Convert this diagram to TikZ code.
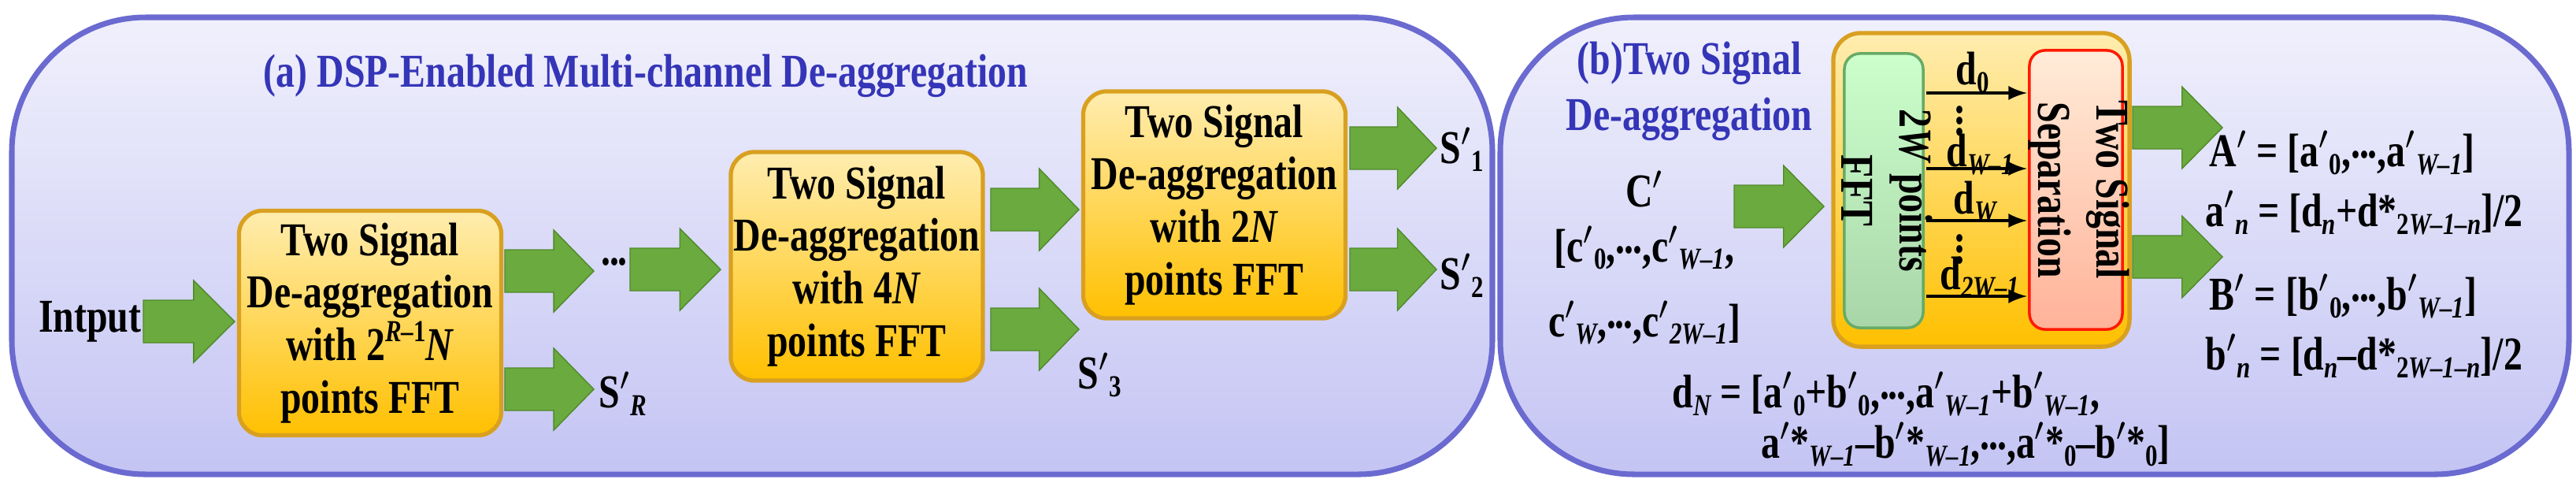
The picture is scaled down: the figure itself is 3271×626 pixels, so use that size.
\documentclass[tikz,border=0pt]{standalone}
\usepackage{fontspec}
\setmainfont{Liberation Serif}[FakeStretch=0.8]
\usetikzlibrary{positioning}
\newcommand{\sbs}[1]{\raisebox{-0.35ex}{\fontsize{11}{11}\selectfont #1}}
\newcommand{\sps}[1]{\raisebox{0.9ex}{\fontsize{11}{11}\selectfont #1}}
\newcommand{\cdd}{\raisebox{0.4ex}{.\kern-0.02em.\kern-0.02em.}}
\definecolor{pborder}{HTML}{6A6AD0}
\definecolor{ptop}{HTML}{F0F0FC}
\definecolor{pbot}{HTML}{C4C4F4}
\definecolor{ttl}{HTML}{3535B8}
\definecolor{ybord}{HTML}{D9A020}
\definecolor{ytop}{HTML}{FFEDB0}
\definecolor{ybot}{HTML}{FFC000}
\definecolor{garr}{HTML}{6BAA3E}
\definecolor{gdark}{HTML}{4F8A2A}
\tikzset{
 panel/.style={draw=pborder,line width=2pt,rounded corners=1.7cm,top color=ptop,bottom color=pbot},
 blk/.style={draw=ybord,line width=1.5pt,rounded corners=0.3cm,top color=ytop,bottom color=ybot,
   align=center,font=\bfseries\fontsize{17}{19}\selectfont,inner sep=0pt},
 txt/.style={font=\bfseries\fontsize{17}{17}\selectfont,inner sep=0pt},
 ttlf/.style={font=\bfseries\fontsize{17}{20}\selectfont,text=ttl,align=center,inner sep=0pt},
 thin/.style={-latex,line width=1.3pt},
}
% block arrow: x1, x2, y (pixels)
\newcommand{\garrow}[3]{%
 \pgfmathsetmacro{\xm}{#1+0.55*(#2-#1)}%
 \fill[garr,draw=gdark,line width=0.4pt] (#1,#3-27) -- (\xm,#3-27) -- (\xm,#3-52) -- (#2,#3) -- (\xm,#3+52) -- (\xm,#3+27) -- (#1,#3+27) -- cycle;}
\begin{document}
\begin{tikzpicture}[x=0.01cm,y=-0.01cm]
\useasboundingbox (0,0) rectangle (3271,626);
\fill[white] (0,0) rectangle (3271,626);
% panels
\draw[panel] (15,22) rectangle (1895,602);
\draw[panel] (1905,22) rectangle (3262,602);
% panel (a)
\node[ttlf] (ta) at (820,96) {(a) DSP-Enabled Multi-channel De-aggregation};
\node[blk,minimum width=3.33cm,minimum height=2.85cm] (b1) at (470,410)
 {Two Signal\\De-aggregation\\with 2\sps{\itshape R}\sps{--1}\textit{N}\\points FFT};
\node[blk,minimum width=3.2cm,minimum height=2.9cm] (b2) at (1088,338)
 {Two Signal\\De-aggregation\\with 4\textit{N}\\points FFT};
\node[blk,minimum width=3.33cm,minimum height=2.88cm] (b3) at (1542,260)
 {Two Signal\\De-aggregation\\with 2\textit{N}\\points FFT};
\node[txt,anchor=east] (in) at (180,408) {Intput};
\garrow{182}{298}{408}
\garrow{641}{754}{344}
\garrow{641}{754}{494}
\node[txt] (dots) at (780,338) {\cdd};
\garrow{800}{915}{342}
\garrow{1258}{1370}{266}
\garrow{1258}{1370}{418}
\garrow{1714}{1824}{188}
\garrow{1714}{1824}{342}
\node[txt,anchor=west] (sr) at (760,500) {S$'$\sbs{\itshape R}};
\node[txt,anchor=west] (s3) at (1368,476) {S$'$\sbs{3}};
\node[txt,anchor=west] (s1) at (1828,190) {S$'$\sbs{1}};
\node[txt,anchor=west] (s2) at (1828,350) {S$'$\sbs{2}};
% panel (b)
\node[ttlf] (tb) at (2145,116) {(b)Two Signal\\De-aggregation};
\node[draw=ybord,line width=1.5pt,rounded corners=0.35cm,top color=ytop,bottom color=ybot,
 minimum width=3.76cm,minimum height=3.98cm] (ob) at (2516,241) {};
\node[draw=green!45!black!60,line width=1pt,rounded corners=0.2cm,top color=green!20!white,bottom color=green!35!gray!50,
 minimum width=1.0cm,minimum height=3.48cm] (fft) at (2392,242) {};
\node[rotate=-90,txt,align=center] at (2396,242) {2\textit{W} points\\[4pt]FFT};
\node[draw=red!80!orange,line width=1pt,rounded corners=0.2cm,top color=orange!15!white,bottom color=orange!50!red!40,
 minimum width=1.18cm,minimum height=3.54cm] (sep) at (2636,241) {};
\node[rotate=-90,txt,align=center] at (2640,241) {Two Signal\\[4pt]Separation};
\coordinate (a1) at (2446,118); \coordinate (e1) at (2574,118);
\coordinate (a2) at (2446,214); \coordinate (e2) at (2574,214);
\coordinate (a3) at (2446,280); \coordinate (e3) at (2574,280);
\coordinate (a4) at (2446,376); \coordinate (e4) at (2574,376);
\draw[thin] (a1) -- (e1); \draw[thin] (a2) -- (e2);
\draw[thin] (a3) -- (e3); \draw[thin] (a4) -- (e4);
\node[txt] (d0) at (2505,92) {d\sbs{0}};
\node[txt] (vd1) at (2488,143) {$\vdots$};
\node[txt] (d1) at (2514,196) {d\sbs{\itshape W--1}};
\node[txt] (dw) at (2508,256) {d\sbs{\itshape W}};
\node[txt] (vd2) at (2488,306) {$\vdots$};
\node[txt] (d2) at (2514,352) {d\sbs{\itshape 2W--1}};
\garrow{2202}{2316}{262}
\node[txt] (cp) at (2088,240) {C$'$};
\node[txt,align=center] (cv) at (2088,362) {[c$'$\sbs{0},\cdd,c$'$\sbs{\itshape W--1},\\[10pt]c$'$\sbs{\itshape W},\cdd,c$'$\sbs{\itshape 2W--1}]};
\garrow{2708}{2822}{162}
\garrow{2708}{2822}{326}
\node[txt,anchor=west] (ap) at (2805,194) {A$'$ = [a$'$\sbs{0},\cdd,a$'$\sbs{\itshape W--1}]};
\node[txt,anchor=west] (an) at (2800,270) {a$'$\sbs{\itshape n} = [d\sbs{\itshape n}+d*\sbs{2\itshape W--1--n}]/2};
\node[txt,anchor=west] (bp) at (2805,376) {B$'$ = [b$'$\sbs{0},\cdd,b$'$\sbs{\itshape W--1}]};
\node[txt,anchor=west] (bn) at (2800,452) {b$'$\sbs{\itshape n} = [d\sbs{\itshape n}--d*\sbs{2\itshape W--1--n}]/2};
\node[txt,anchor=west] (dn1) at (2123,500) {d\sbs{\itshape N} = [a$'$\sbs{0}+b$'$\sbs{0},\cdd,a$'$\sbs{\itshape W--1}+b$'$\sbs{\itshape W--1},};
\node[txt,anchor=west] (dn2) at (2236,564) {a$'$*\sbs{\itshape W--1}--b$'$*\sbs{\itshape W--1},\cdd,a$'$*\sbs{0}--b$'$*\sbs{0}]};
\end{tikzpicture}
\end{document}
